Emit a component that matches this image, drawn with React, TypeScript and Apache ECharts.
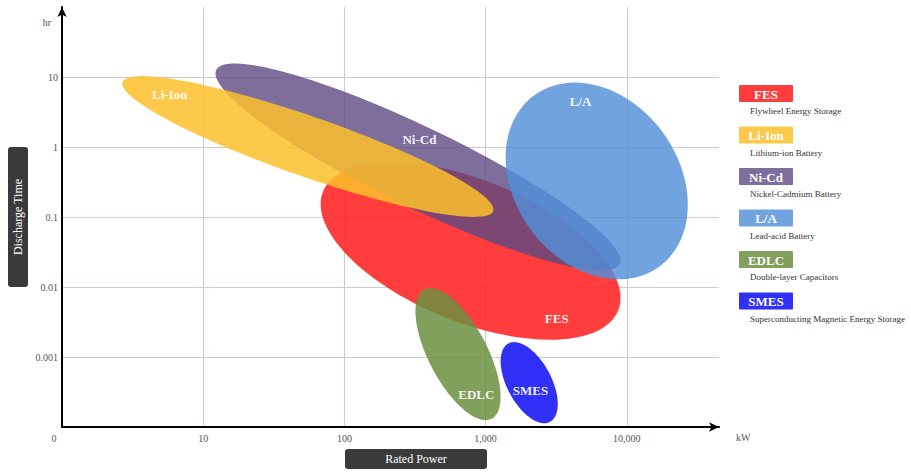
import React, { useEffect, useRef } from 'react';
import * as echarts from 'echarts';

// ---- data ----
const technologies = ['FES', 'Li-Ion', 'Ni-Cd', 'L/A', 'EDLC', 'SMES'];
const descriptions = [
  'Flywheel Energy Storage',
  'Lithium-ion Battery',
  'Nickel-Cadmium Battery',
  'Lead-acid Battery',
  'Double-layer Capacitors',
  'Superconducting Magnetic Energy Storage',
];
// ellipse centres (rated power kW, discharge time hr)
const centrePower = [783, 55.1, 332, 6124, 638, 2037];
const centreTime = [0.0327, 1.016, 0.518, 0.327, 0.0011, 0.00043];
// conjugate half-axes of each ellipse, in decades [dPower, dTime]
const halfAxisU = [
  [1.045, -0.851],
  [1.313, -0.921],
  [1.429, -1.386],
  [0.442, -1.225],
  [0.238, -0.923],
  [0.147, -0.56],
];
const halfAxisV = [
  [-0.189, -0.94],
  [-0.07, -0.405],
  [-0.123, -0.515],
  [-0.47, -0.689],
  [-0.185, -0.193],
  [-0.139, -0.148],
];
// label anchors (kW, hr)
const labelPower = [3190, 5.8, 340, 4700, 860, 2080];
const labelTime = [0.0035, 5.7, 1.3, 4.4, 0.00029, 0.00033];
const drawOrder = [0, 2, 1, 3, 4, 5];

const xTickLabels = ['0', '10', '100', '1,000', '10,000'];
const yTickExps = [-3, -2, -1, 0, 1];
const yTickLabels = ['0.001', '0.01', '0.1', '1', '10'];

// ---- styles ----
const colors = ['#ff2222', '#fdc02a', '#5d4a82', '#5290d8', '#6b8f3e', '#1a1af5'];
const opacities = [0.88, 0.85, 0.8, 0.82, 0.85, 0.9];
const FONT = '"Liberation Serif", "Times New Roman", serif';
const gridColor = '#d7c7cb';

function isPow10(v: number) {
  const e = Math.round(Math.log10(v));
  return Math.abs(Math.log10(v) - e) < 1e-6 ? e : null;
}

function buildOption() {
  const ellipseData = drawOrder.map((i) => [
    centrePower[i],
    centreTime[i],
    halfAxisU[i][0],
    halfAxisU[i][1],
    halfAxisV[i][0],
    halfAxisV[i][1],
    i,
  ]);
  const labelData = drawOrder.map((i) => [labelPower[i], labelTime[i], i]);

  const legendGraphics: any[] = [];
  technologies.forEach((t, i) => {
    const y0 = 85 + 41.5 * i;
    legendGraphics.push({
      type: 'rect',
      shape: { x: 739, y: y0, width: 54, height: 17, r: 1 },
      style: { fill: colors[i], opacity: opacities[i] },
    });
    legendGraphics.push({
      type: 'text',
      x: 766,
      y: y0 + 9,
      style: {
        text: t,
        fill: '#fff',
        fontFamily: FONT,
        fontWeight: 'bold',
        fontSize: 13,
        align: 'center',
        verticalAlign: 'middle',
      },
    });
    legendGraphics.push({
      type: 'text',
      x: 750,
      y: y0 + 26,
      style: {
        text: descriptions[i],
        fill: '#333',
        fontFamily: FONT,
        fontSize: 9,
        align: 'left',
        verticalAlign: 'middle',
      },
    });
  });

  return {
    animation: false,
    backgroundColor: '#fff',
    grid: { left: 62, right: 192, top: 7, bottom: 46 },
    xAxis: {
      type: 'log',
      logBase: 10,
      min: 1,
      max: 45000,
      name: 'kW',
      nameLocation: 'end',
      nameGap: 17,
      nameTextStyle: { fontFamily: FONT, fontSize: 10, color: '#555', verticalAlign: 'top', padding: [5, 0, 0, 0] },
      axisLine: {
        show: true,
        onZero: false,
        symbol: ['none', 'arrow'],
        symbolSize: [7, 10],
        lineStyle: { color: '#000', width: 2 },
      },
      axisTick: { show: false },
      splitLine: { show: true, showMinLine: false, showMaxLine: false, lineStyle: { color: gridColor, width: 1 } },
      axisLabel: {
        margin: 6,
        fontFamily: FONT,
        fontSize: 10,
        color: '#555',
        showMaxLabel: false,
        formatter: (v: number) => {
          const e = isPow10(v);
          if (e === null || e < 0 || e >= xTickLabels.length) return '';
          return e === 0 ? '{o|' + xTickLabels[0] + '}' : xTickLabels[e];
        },
        rich: { o: { padding: [0, 16, 0, 0], fontFamily: FONT, fontSize: 10, color: '#555' } },
      },
    },
    yAxis: {
      type: 'log',
      logBase: 10,
      min: 0.0001,
      max: 100,
      axisLine: {
        show: true,
        onZero: false,
        symbol: ['none', 'arrow'],
        symbolSize: [7, 10],
        lineStyle: { color: '#000', width: 2 },
      },
      axisTick: { show: false },
      splitLine: { show: true, showMinLine: false, showMaxLine: false, lineStyle: { color: gridColor, width: 1 } },
      axisLabel: {
        margin: 4,
        fontFamily: FONT,
        fontSize: 10,
        color: '#555',
        formatter: (v: number) => {
          const e = isPow10(v);
          const k = e === null ? -1 : yTickExps.indexOf(e);
          return k >= 0 ? yTickLabels[k] : '';
        },
      },
    },
    graphic: [
      {
        type: 'text',
        x: 47,
        y: 22,
        style: { text: 'hr', fill: '#555', fontFamily: FONT, fontSize: 10, align: 'center', verticalAlign: 'middle' },
      },
      {
        type: 'rect',
        shape: { x: 8, y: 147, width: 20, height: 140, r: 3 },
        style: { fill: '#3a3a3a' },
      },
      {
        type: 'text',
        x: 18,
        y: 217,
        rotation: Math.PI / 2,
        style: { text: 'Discharge Time', fill: '#fff', fontFamily: FONT, fontSize: 12, align: 'center', verticalAlign: 'middle' },
      },
      {
        type: 'rect',
        shape: { x: 345, y: 449, width: 142, height: 20, r: 3 },
        style: { fill: '#3a3a3a' },
      },
      {
        type: 'text',
        x: 416,
        y: 459,
        style: { text: 'Rated Power', fill: '#fff', fontFamily: FONT, fontSize: 12, align: 'center', verticalAlign: 'middle' },
      },
      ...legendGraphics,
    ],
    series: [
      {
        type: 'custom',
        clip: false,
        data: ellipseData,
        encode: { x: 0, y: 1 },
        renderItem: (_params: any, api: any) => {
          const cx = Math.log10(api.value(0));
          const cy = Math.log10(api.value(1));
          const ux = api.value(2), uy = api.value(3), vx = api.value(4), vy = api.value(5);
          const idx = api.value(6);
          const pts: number[][] = [];
          const n = 120;
          for (let k = 0; k < n; k++) {
            const t = (2 * Math.PI * k) / n;
            const lx = cx + ux * Math.cos(t) + vx * Math.sin(t);
            const ly = cy + uy * Math.cos(t) + vy * Math.sin(t);
            pts.push(api.coord([Math.pow(10, lx), Math.pow(10, ly)]));
          }
          return {
            type: 'polygon',
            shape: { points: pts, smooth: 0 },
            style: { fill: colors[idx], opacity: opacities[idx] },
          };
        },
      },
      {
        type: 'custom',
        clip: false,
        data: labelData,
        encode: { x: 0, y: 1 },
        renderItem: (_params: any, api: any) => {
          const p = api.coord([api.value(0), api.value(1)]);
          const idx = api.value(2);
          return {
            type: 'text',
            x: p[0],
            y: p[1],
            style: {
              text: technologies[idx],
              fill: '#fff',
              opacity: 0.92,
              fontFamily: FONT,
              fontWeight: 'bold',
              fontSize: 13,
              align: 'center',
              verticalAlign: 'middle',
            },
          };
        },
      },
    ],
  };
}

export default function App() {
  const ref = useRef<HTMLDivElement>(null);
  useEffect(() => {
    const chart = echarts.init(ref.current!, undefined, { renderer: 'svg' });
    chart.setOption(buildOption() as any);
    return () => chart.dispose();
  }, []);
  return (
    <div
      ref={ref}
      style={{ position: 'fixed', left: 0, top: 0, width: 911, height: 473, background: '#fff' }}
    />
  );
}
